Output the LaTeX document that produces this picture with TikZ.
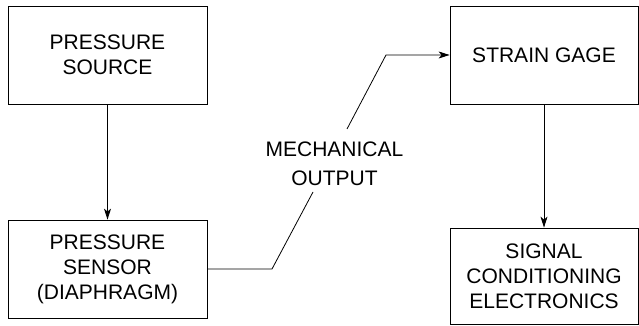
\documentclass[tikz,border=0pt]{standalone}
\usepackage{fontspec}
\setmainfont{Liberation Sans}
\usetikzlibrary{arrows.meta}
\tikzset{blok/.style={draw, line width=.8pt, inner sep=0pt, align=center, minimum width=199pt, minimum height=98pt, font=\fontsize{21}{25}\selectfont}}
\begin{document}
\begin{tikzpicture}[x=1pt, y=1pt, >={Stealth[length=11pt,width=7pt,inset=3pt]}, line width=.8pt]
\useasboundingbox (0,0) rectangle (639,326);
\node[blok](bron) at (107.5,271){PRESSURE\\SOURCE};
\node[blok](sensor) at (107.5,57){PRESSURE\\SENSOR\\(DIAPHRAGM)};
\node[blok, minimum width=188pt](gage) at (544,271){STRAIN GAGE};
\node[blok, minimum width=188pt, minimum height=96pt](elek) at (544,50){SIGNAL\\CONDITIONING\\ELECTRONICS};
\node[align=center, font=\fontsize{21}{29}\selectfont](mech) at (334.5,162){MECHANICAL\\OUTPUT};
\coordinate(k1) at (272,57);
\coordinate(k2) at (313,134);
\coordinate(k3) at (347,197);
\coordinate(k4) at (386,271);
\draw[->](bron)--(sensor);
\draw[->](gage)--(elek);
\draw(sensor.east)--(k1)--(k2);
\draw[->](k3)--(k4)--(gage.west);
\end{tikzpicture}
\end{document}
